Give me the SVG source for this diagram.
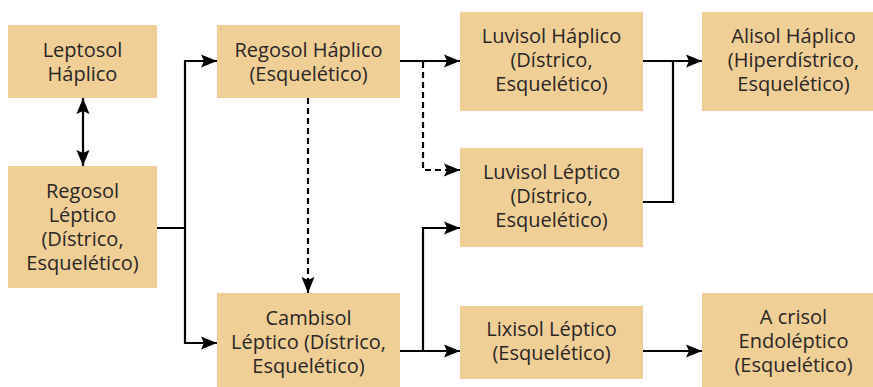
<svg xmlns="http://www.w3.org/2000/svg" width="873" height="387" viewBox="0 0 873 387">
<style>
.box{fill:#f0cf97;}
.t{font-family:"Open Sans","Noto Sans",sans-serif;font-size:20px;fill:#2a2626;text-anchor:middle;}
.ln{fill:none;stroke:#000;stroke-width:2.2;}
.d{stroke-dasharray:6,4;}
</style>
<defs>
<marker id="ah" markerUnits="userSpaceOnUse" markerWidth="16" markerHeight="14" refX="16" refY="7" orient="auto-start-reverse" viewBox="0 0 16 14">
<path d="M0,0.5 L16,7 L0,13.5 L3,7 z" fill="#000"/>
</marker>
</defs>
<rect width="873" height="387" fill="#fff"/>
<g id="connectors">
<path class="ln" d="M83,98 V166" marker-start="url(#ah)" marker-end="url(#ah)"/>
<path class="ln" d="M157,228 H185 V61 H217" marker-end="url(#ah)"/>
<path class="ln" d="M185,228 V343 H217" marker-end="url(#ah)"/>
<path class="ln" d="M400,61 H460" marker-end="url(#ah)"/>
<path class="ln d" d="M423,62 V170 H460" marker-end="url(#ah)"/>
<path class="ln d" d="M308,98 V293" marker-end="url(#ah)"/>
<path class="ln" d="M400,351 H460" marker-end="url(#ah)"/>
<path class="ln" d="M423,351 V228 H460" marker-end="url(#ah)"/>
<path class="ln" d="M643,202 H673 V61"/>
<path class="ln" d="M643,61 H702" marker-end="url(#ah)"/>
<path class="ln" d="M643,351 H702" marker-end="url(#ah)"/>
</g>
<g id="leptosol-haplico">
<rect class="box" x="8" y="25" width="149" height="73"/>
<text class="t" x="82.5" y="57">Leptosol</text>
<text class="t" x="82.5" y="81">Háplico</text>
</g>
<g id="regosol-leptico">
<rect class="box" x="8" y="166" width="149" height="122"/>
<text class="t" x="82.5" y="198">Regosol</text>
<text class="t" x="82.5" y="222">Léptico</text>
<text class="t" x="82.5" y="246">(Dístrico,</text>
<text class="t" x="82.5" y="270">Esquelético)</text>
</g>
<g id="regosol-haplico">
<rect class="box" x="217" y="25" width="183" height="73"/>
<text class="t" x="308.5" y="57">Regosol Háplico</text>
<text class="t" x="308.5" y="81">(Esquelético)</text>
</g>
<g id="cambisol-leptico">
<rect class="box" x="217" y="293" width="183" height="94"/>
<text class="t" x="308.5" y="325">Cambisol</text>
<text class="t" x="308.5" y="349">Léptico (Dístrico,</text>
<text class="t" x="308.5" y="373">Esquelético)</text>
</g>
<g id="luvisol-haplico">
<rect class="box" x="460" y="12" width="183" height="99"/>
<text class="t" x="551.5" y="43">Luvisol Háplico</text>
<text class="t" x="551.5" y="67">(Dístrico,</text>
<text class="t" x="551.5" y="91">Esquelético)</text>
</g>
<g id="luvisol-leptico">
<rect class="box" x="460" y="148" width="183" height="99"/>
<text class="t" x="551.5" y="179">Luvisol Léptico</text>
<text class="t" x="551.5" y="203">(Dístrico,</text>
<text class="t" x="551.5" y="227">Esquelético)</text>
</g>
<g id="lixisol-leptico">
<rect class="box" x="460" y="306" width="183" height="73"/>
<text class="t" x="551.5" y="336">Lixisol Léptico</text>
<text class="t" x="551.5" y="360">(Esquelético)</text>
</g>
<g id="alisol-haplico">
<rect class="box" x="702" y="12" width="183" height="99"/>
<text class="t" x="793.5" y="43">Alisol Háplico</text>
<text class="t" x="793.5" y="67">(Hiperdístrico,</text>
<text class="t" x="793.5" y="91">Esquelético)</text>
</g>
<g id="acrisol-endoleptico">
<rect class="box" x="702" y="293" width="183" height="99"/>
<text class="t" x="793.5" y="324">A crisol</text>
<text class="t" x="793.5" y="348">Endoléptico</text>
<text class="t" x="793.5" y="372">(Esquelético)</text>
</g>
</svg>
